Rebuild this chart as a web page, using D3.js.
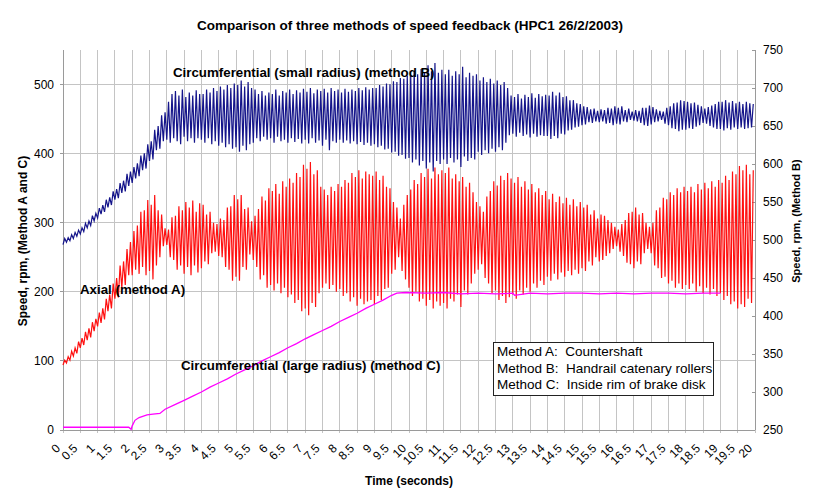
<!DOCTYPE html>
<html><head><meta charset="utf-8">
<script src="https://cdn.jsdelivr.net/npm/d3@7"></script>
<style>
html,body{margin:0;padding:0;background:#fff;}
svg text{font-family:"Liberation Sans",Arial,sans-serif;fill:#000;}
</style></head>
<body>
<script>
// ---------- DATA ----------
const xTickLabels = ["0","0.5","1","1.5","2","2.5","3","3.5","4","4.5","5","5.5","6","6.5","7","7.5","8","8.5","9","9.5","10","10.5","11","11.5","12","12.5","13","13.5","14","14.5","15","15.5","16","16.5","17","17.5","18","18.5","19","19.5","20"];
const leftTicks = [0,100,200,300,400,500];
const rightTicks = [250,300,350,400,450,500,550,600,650,700,750];
const cyclesPerSecond = 10;

// Method A (axial, countershaft) – left axis; peak / trough of each oscillation cycle
const redHi = [
101,106,114,119,128,133,142,147,156,161,
170,176,190,196,212,220,238,244,262,272,
288,296,316,318,333,326,340,318,312,292,
290,308,310,324,318,330,322,332,316,328,
326,312,316,300,298,306,304,322,324,340,
334,340,320,322,302,310,320,338,332,350,
346,356,342,360,352,364,358,372,366,384,
378,388,370,376,352,348,340,352,346,356,
352,362,358,372,366,376,364,374,370,368,
374,362,368,352,350,330,322,306,326,340,
348,362,356,372,366,378,364,380,370,376,
372,380,364,370,360,366,352,358,344,330,
324,316,338,346,360,354,368,362,372,364,
358,366,352,360,348,356,344,350,340,346,
334,342,330,338,328,336,326,334,324,330,
322,326,312,318,306,312,310,304,300,294,
290,298,304,314,316,322,312,314,300,294,
300,318,322,336,334,344,340,350,344,352,
346,352,344,356,348,358,350,360,352,362,
358,368,362,374,370,382,376,384,370,376];
const redLo = [
94,97,101,107,111,119,123,130,134,143,
150,155,160,172,176,190,192,206,210,224,
224,232,226,236,224,230,218,238,250,266,
268,250,246,232,238,226,236,224,238,228,
234,244,240,256,258,252,250,236,232,216,
222,216,236,232,254,246,236,218,224,206,
210,202,212,198,206,192,196,184,188,172,
176,166,184,178,198,206,212,204,210,200,
204,194,198,186,192,180,190,182,186,188,
182,194,188,204,206,226,232,250,230,218,
206,194,200,186,190,180,188,176,186,180,
184,176,190,186,196,178,202,196,212,226,
232,240,220,212,198,202,188,194,184,192,
196,190,202,196,206,200,212,206,216,210,
222,216,226,218,228,222,230,224,232,226,
234,230,244,238,250,244,246,252,256,262,
266,258,252,242,240,234,244,240,256,262,
256,238,234,220,222,212,216,206,212,204,
210,204,212,200,208,198,206,196,204,194,
198,188,194,182,186,176,182,178,190,184];

// Method B (circumferential small radius, handrail rollers) – right axis
const blueHi = [
502,503,507,510,513,516,522,525,532,535,
542,546,553,556,564,567,575,578,587,590,
596,601,611,614,626,630,645,650,664,668,
682,692,696,690,698,688,694,690,697,692,
692,698,694,700,696,702,698,704,700,706,
704,710,702,708,700,698,692,696,690,694,
692,698,690,696,694,698,692,697,694,699,
695,700,693,698,696,699,694,700,696,698,
694,699,695,698,696,700,697,701,698,700,
700,704,702,706,705,709,708,713,712,716,
716,722,718,725,720,730,722,733,720,724,
718,724,716,722,718,728,714,720,716,718,
710,714,708,712,706,710,704,708,700,690,
688,692,686,691,688,693,687,692,689,691,
690,695,690,694,688,689,684,684,680,679,
676,675,672,673,670,672,671,674,673,676,
674,676,671,673,669,671,670,674,674,677,
675,672,670,669,674,676,680,681,684,683,
682,680,681,678,676,673,675,677,679,682,
682,684,681,683,680,682,679,682,680,679];
const blueLo = [
494,497,499,502,505,508,511,516,519,525,
529,534,537,543,546,553,555,562,564,571,
575,581,584,592,594,604,606,618,620,630,
632,628,634,630,626,636,630,634,628,634,
632,628,634,626,630,624,628,622,626,620,
622,616,624,618,626,628,634,630,636,632,
634,628,636,630,632,628,634,629,633,627,
632,627,634,628,631,624,632,618,630,628,
632,628,631,627,630,626,629,625,628,624,
626,622,624,619,620,615,616,611,612,607,
608,602,606,598,604,594,602,590,604,600,
606,600,608,602,606,596,610,604,608,606,
616,612,618,614,620,616,622,618,628,638,
640,636,641,637,639,635,640,636,638,637,
637,633,637,634,640,639,644,645,648,649,
651,652,655,654,656,655,656,653,654,651,
653,652,656,655,658,657,656,654,651,650,
652,655,656,658,653,651,647,646,643,645,
645,647,646,649,651,654,653,650,648,646,
646,644,647,645,648,646,648,646,647,648];

// Method C (circumferential large radius, brake disk) – left axis
const timeC = [0,0.5,1,1.5,1.9,1.97,2.0,2.08,2.2,2.43,2.6,2.8,2.95,3.25,3.5,3.75,4,4.25,4.5,4.75,5,5.25,5.5,5.75,6,6.25,6.5,6.75,7,7.25,7.5,7.75,8,8.25,8.5,8.75,9,9.25,9.5,9.65,9.9,10.5,11,11.5,12,12.5,13,13.05,13.5,14,14.5,15,15.5,16,16.5,17,17.5,18,18.5,19];
const speedC = [4,4,4,4,4,1,6,14,18,22,23,24,30,37,43,49,55,62,68,74,81,87,93,100,106,112,119,125,132,138,144,150,157,163,169,176,182,188,195,198,199,198,199,197,198,197,198,195,198,197,198,198,197,198,197,198,198,197,198,198];

// ---------- CHART ----------
const W = 820, H = 503;
const m = {left:63, right:65, top:50, bottom:73};
const svg = d3.select("body").append("svg").attr("width",W).attr("height",H);

const x = d3.scaleLinear().domain([0,20]).range([m.left, W-m.right]);
const yL = d3.scaleLinear().domain([0,550]).range([H-m.bottom, m.top]);
const yR = d3.scaleLinear().domain([250,750]).range([H-m.bottom, m.top]);
const x0 = m.left, x1 = W-m.right, y0 = H-m.bottom, y1 = m.top;

// grid
const g = svg.append("g");
g.selectAll("line.vg").data(xTickLabels).enter().append("line")
  .attr("x1",d=>x(+d)).attr("x2",d=>x(+d)).attr("y1",y1).attr("y2",y0+3)
  .attr("stroke","#c4c4c4").attr("stroke-width",1).attr("shape-rendering","crispEdges");
g.selectAll("line.hg").data(leftTicks).enter().append("line")
  .attr("x1",x0).attr("x2",x1).attr("y1",d=>yL(d)).attr("y2",d=>yL(d))
  .attr("stroke","#c4c4c4").attr("stroke-width",1).attr("shape-rendering","crispEdges");

// axes lines
const axisCol = "#9a9a9a";
svg.append("line").attr("x1",x0).attr("x2",x0).attr("y1",y1).attr("y2",y0).attr("stroke",axisCol).attr("shape-rendering","crispEdges");
svg.append("line").attr("x1",x1).attr("x2",x1).attr("y1",y1).attr("y2",y0).attr("stroke",axisCol).attr("shape-rendering","crispEdges");
svg.append("line").attr("x1",x0).attr("x2",x1).attr("y1",y0).attr("y2",y0).attr("stroke",axisCol).attr("shape-rendering","crispEdges");

// left ticks
svg.selectAll("line.lt").data(leftTicks).enter().append("line")
  .attr("x1",x0-3).attr("x2",x0).attr("y1",d=>yL(d)).attr("y2",d=>yL(d))
  .attr("stroke",axisCol).attr("shape-rendering","crispEdges");
svg.selectAll("text.lt").data(leftTicks).enter().append("text")
  .attr("x",x0-9).attr("y",d=>yL(d)).attr("dy","0.35em").attr("text-anchor","end")
  .attr("font-size",12).text(d=>d);
// right ticks
svg.selectAll("line.rt").data(rightTicks).enter().append("line")
  .attr("x1",x1-3).attr("x2",x1).attr("y1",d=>yR(d)).attr("y2",d=>yR(d))
  .attr("stroke",axisCol).attr("shape-rendering","crispEdges");
svg.selectAll("text.rt").data(rightTicks).enter().append("text")
  .attr("x",x1+8).attr("y",d=>yR(d)).attr("dy","0.35em").attr("text-anchor","start")
  .attr("font-size",12).text(d=>d);
// x tick labels
svg.selectAll("text.xt").data(xTickLabels).enter().append("text")
  .attr("transform",d=>`translate(${x(+d)-5},${y0+16}) rotate(-45)`)
  .attr("text-anchor","end").attr("dy","0.35em").attr("font-size",12).text(d=>d);

// series
function osc(hi, lo){
  const pts = [];
  for(let i=0;i<hi.length;i++){
    pts.push([i/cyclesPerSecond, lo[i]]);
    pts.push([(i+0.5)/cyclesPerSecond, hi[i]]);
  }
  return pts;
}
const lineL = d3.line().x(d=>x(d[0])).y(d=>yL(d[1]));
const lineR = d3.line().x(d=>x(d[0])).y(d=>yR(d[1]));
svg.append("path").attr("d",lineR(osc(blueHi,blueLo))).attr("fill","none").attr("stroke","#14148a").attr("stroke-width",1.2);
svg.append("path").attr("d",lineL(osc(redHi,redLo))).attr("fill","none").attr("stroke","#ff1010").attr("stroke-width",1.2);
svg.append("path").attr("d",lineL(timeC.map((t,i)=>[t,speedC[i]]))).attr("fill","none").attr("stroke","#ff00ff").attr("stroke-width",1.3);

// titles
svg.append("text").attr("x",410).attr("y",30).attr("text-anchor","middle").attr("font-size",13.5).attr("font-weight","bold")
  .text("Comparison of three methods of speed feedback (HPC1 26/2/2003)");
svg.append("text").attr("x",409).attr("y",485).attr("text-anchor","middle").attr("font-size",12).attr("font-weight","bold")
  .text("Time (seconds)");
svg.append("text").attr("transform","translate(27,241) rotate(-90)").attr("text-anchor","middle").attr("font-size",12).attr("font-weight","bold")
  .text("Speed, rpm, (Method A and C)");
svg.append("text").attr("transform","translate(800,221) rotate(-90)").attr("text-anchor","middle").attr("font-size",11).attr("font-weight","bold")
  .text("Speed, rpm, (Method B)");

// annotations
svg.append("text").attr("x",173).attr("y",77).attr("font-size",13.3).attr("font-weight","bold").text("Circumferential (small radius) (method B)");
svg.append("text").attr("x",80).attr("y",294).attr("font-size",13.3).attr("font-weight","bold").text("Axial (method A)");
svg.append("text").attr("x",181).attr("y",370).attr("font-size",13.3).attr("font-weight","bold").text("Circumferential (large radius) (method C)");

// legend box
const legendLines = ["Method A:  Countershaft","Method B:  Handrail catenary rollers","Method C:  Inside rim of brake disk"];
svg.append("rect").attr("x",493.5).attr("y",342.5).attr("width",220).attr("height",53).attr("fill","#fff").attr("stroke","#222").attr("stroke-width",1);
svg.selectAll("text.leg").data(legendLines).enter().append("text")
  .attr("x",497).attr("y",(d,i)=>356+i*16.5).attr("font-size",13.5).style("white-space","pre").text(d=>d);
</script>
</body></html>
